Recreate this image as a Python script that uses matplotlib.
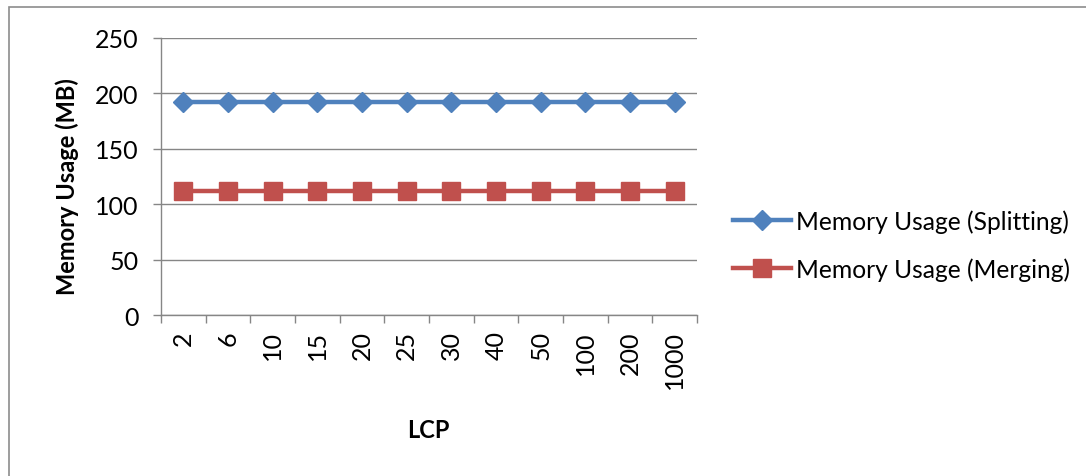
import matplotlib.pyplot as plt
from matplotlib.patches import Rectangle
import numpy as np

plt.rcParams['font.family'] = ['Lato', 'DejaVu Sans']

lcp_labels = ['2', '6', '10', '15', '20', '25', '30', '40', '50', '100', '200', '1000']
mem_splitting = [192, 192, 192, 192, 192, 192, 192, 192, 192, 192, 192, 192]
mem_merging = [112, 112, 112, 112, 112, 112, 112, 112, 112, 112, 112, 112]

blue = '#4F81BD'
red = '#C0504D'
grid = '#868686'

W, H = 1086, 477
fig = plt.figure(figsize=(W / 100, H / 100), dpi=100)
ax = fig.add_axes([161 / W, 1 - 316 / H, 536 / W, 277 / H])

x = np.arange(len(lcp_labels))
ax.plot(x, mem_splitting, color=blue, lw=3.2, marker='D', ms=10.5, mec=blue,
        label='Memory Usage (Splitting)')
ax.plot(x, mem_merging, color=red, lw=3.2, marker='s', ms=13, mec=red,
        label='Memory Usage (Merging)')

ax.set_xlim(-0.5, len(lcp_labels) - 0.5)
ax.set_ylim(0, 250)
ax.set_yticks(np.arange(0, 251, 50))
ax.yaxis.grid(True, color=grid, lw=1)
ax.set_axisbelow(True)

ax.set_xticks(x)
ax.set_xticklabels(lcp_labels, rotation=90, fontsize=18)
ax.tick_params(axis='x', which='major', length=0, pad=11)
ax.set_xticks(np.arange(-0.5, len(lcp_labels)), minor=True)
ax.tick_params(axis='x', which='minor', length=6, color=grid, width=1)
ax.tick_params(axis='y', length=6, color=grid, width=1, labelsize=18, pad=10)

for s in ['top', 'right']:
    ax.spines[s].set_visible(False)
for s in ['left', 'bottom']:
    ax.spines[s].set_color(grid)
    ax.spines[s].set_linewidth(1)

fig.text(67 / W, 1 - 187 / H, 'Memory Usage (MB)', rotation=90, fontsize=17,
         fontweight='bold', ha='center', va='center')
fig.text(428 / W, 1 - 431 / H, 'LCP', fontsize=17, fontweight='bold',
         ha='center', va='center')

fig.legend(loc='center left', bbox_to_anchor=(733 / W, 1 - 246 / H), frameon=False,
           fontsize=17.7, handlelength=2.35, handletextpad=0.2, labelspacing=1.0,
           borderpad=0, borderaxespad=0)

fig.patches.append(Rectangle((9 / W, -0.1), 1.2, (H - 8) / H + 0.1,
                             transform=fig.transFigure, fill=False,
                             edgecolor='#8c8c8c', lw=1.2))

fig.savefig('out.png', dpi=100)
